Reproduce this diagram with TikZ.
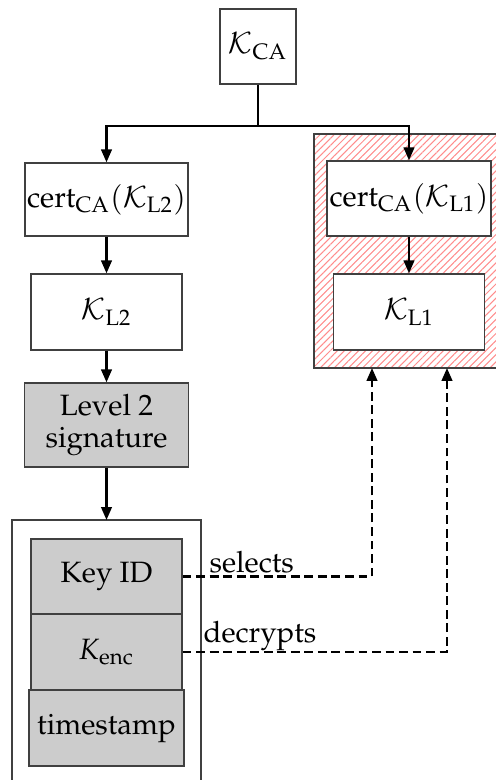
\documentclass[tikz,border=0pt]{standalone}
\usepackage[T1]{fontenc}
\usepackage{mathpazo}
\usetikzlibrary{patterns.meta,arrows.meta}
\newlength\pxu
\setlength\pxu{0.34pt}
\tikzset{
  box/.style={draw=black!75, line width=0.45pt, rectangle, inner sep=0pt, align=center, font=\normalsize},
  greybox/.style={box, fill=black!20},
  link/.style={line width=0.75pt, -{Triangle[length=4.4pt,width=3.6pt]}},
  dlink/.style={link, line width=0.8pt, dash pattern=on 3pt off 1.6pt},
}
\begin{document}
\begin{tikzpicture}[x=\pxu, y=-\pxu]
\useasboundingbox (0,0) rectangle (496,780);

% hatched group around the level-1 certificate chain
\draw[draw=black!75, line width=0.45pt, pattern={Lines[angle=45,distance=1.7pt,line width=0.35pt]}, pattern color=red!45]
  (314,134) rectangle (520,368);
\coordinate (grpS1) at (372,368);
\coordinate (grpS2) at (447,368);

% container of the signature fields
\draw[draw=black!75, line width=0.45pt] (12,800) -- (12,520) -- (201,520) -- (201,800);
\coordinate (contN) at (106.5,520);

\node[box, minimum width=76\pxu, minimum height=75\pxu] (kca) at (258,46.5) {$\mathcal{K}_{\mathrm{CA}}$};

\node[box, fill=white, minimum width=163\pxu, minimum height=73\pxu] (certL2) at (106.5,199.5) {cert$_{\mathrm{CA}}(\mathcal{K}_{\mathrm{L2}})$};
\node[box, minimum width=151\pxu, minimum height=76\pxu] (kl2) at (106.5,312) {$\mathcal{K}_{\mathrm{L2}}$};
\node[greybox, minimum width=164\pxu, minimum height=84\pxu] (sig) at (106.5,425) {Level 2\\[-1pt]signature};

\node[box, fill=white, minimum width=164\pxu, minimum height=75\pxu] (certL1) at (409,198.5) {cert$_{\mathrm{CA}}(\mathcal{K}_{\mathrm{L1}})$};
\node[box, fill=white, minimum width=151\pxu, minimum height=76\pxu] (kl1) at (409,312) {$\mathcal{K}_{\mathrm{L1}}$};

\node[greybox, minimum width=151\pxu, minimum height=75\pxu] (keyid) at (106.5,576.5) {Key ID};
\node[greybox, minimum width=151\pxu, minimum height=76\pxu] (kenc) at (106.5,652) {$K_{\mathrm{enc}}$};
\node[greybox, minimum width=155\pxu, minimum height=76\pxu] (ts) at (106.5,728) {timestamp};

% solid connectors
\draw[line width=0.75pt] (kca.south) -- (258,126) coordinate (split);
\draw[link] (split) -| (certL2.north);
\draw[link] (split) -| (certL1.north);
\draw[link] (certL2) -- (kl2);
\draw[link] (kl2) -- (sig);
\draw[link] (sig) -- (contN);
\draw[link] (certL1) -- (kl1);

% dashed references into the level-1 group
\draw[dlink] (keyid.east) -| (grpS1);
\draw[dlink] (kenc.east) -| (grpS2);
\node[anchor=base west, inner sep=0pt] (lsel) at (209,572) {selects};
\node[anchor=base west, inner sep=0pt] (ldec) at (203,642) {decrypts};
\end{tikzpicture}
\end{document}
